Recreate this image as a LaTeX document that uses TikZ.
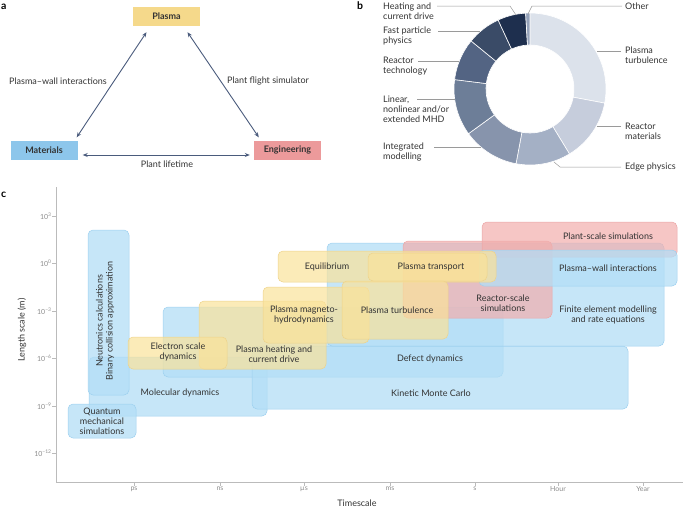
\documentclass[tikz,border=0pt]{standalone}
\usepackage{fontspec}
\setmainfont{Lato}
\usepackage{tikz}
\usetikzlibrary{arrows.meta}

\definecolor{txt}{HTML}{333333}
\definecolor{ticktxt}{HTML}{8C8C8C}
\definecolor{axisc}{HTML}{BBBBBB}
\definecolor{pbox}{HTML}{F5D98B}
\definecolor{mbox}{HTML}{8DC6EB}
\definecolor{ebox}{HTML}{EC9A9B}
\definecolor{arr}{HTML}{4A5B7C}
\definecolor{lead}{HTML}{9A9A9A}
\definecolor{segPT}{HTML}{DCE2EB}
\definecolor{segRM}{HTML}{C6CDDC}
\definecolor{segEP}{HTML}{A4B0C5}
\definecolor{segIM}{HTML}{8794AC}
\definecolor{segMHD}{HTML}{6D7E98}
\definecolor{segRT}{HTML}{536483}
\definecolor{segFP}{HTML}{3A4B67}
\definecolor{segHC}{HTML}{1E2F4E}
\definecolor{segOT}{HTML}{94A2BA}
\definecolor{bfill}{HTML}{B3DEF6}
\definecolor{bline}{HTML}{9DD0EF}
\definecolor{yfill}{HTML}{FAE29A}
\definecolor{yline}{HTML}{EED38A}
\definecolor{rfill}{HTML}{F2AEAD}
\definecolor{rline}{HTML}{EBA5A5}

\begin{document}
\begin{tikzpicture}[x=1pt,y=-1pt,
  every node/.style={font=\fontsize{9}{10}\selectfont, text=txt, inner sep=0pt},
  panel/.style={font=\fontsize{10.5}{12}\selectfont\bfseries, text=black},
  hdr/.style={font=\fontsize{9}{10}\selectfont\bfseries, minimum width=67pt, minimum height=19pt},
  darr/.style={draw=arr, line width=0.9pt, {Stealth[length=5pt,width=4pt]}-{Stealth[length=5pt,width=4pt]}},
  leader/.style={draw=lead, line width=0.5pt},
  bbox/.style={draw=bline, fill=bfill, fill opacity=0.75, rounded corners=5pt, line width=0.5pt},
  ybox/.style={draw=yline, fill=yfill, fill opacity=0.7, rounded corners=5pt, line width=0.5pt},
  rbox/.style={draw=rline, fill=rfill, fill opacity=0.7, rounded corners=5pt, line width=0.5pt},
  ticklbl/.style={font=\fontsize{7}{8}\selectfont, text=ticktxt},
  axisline/.style={draw=axisc, line width=0.8pt}]
\useasboundingbox (0,0) rectangle (685,507);

% panel a
\node [panel, anchor=west] (la) at (1,7) {a};
\node [hdr, fill=pbox] (plasma) at (166.5,16.5) {Plasma};
\node [hdr, fill=mbox] (materials) at (44,150) {Materials};
\node [hdr, fill=ebox] (engineering) at (287.5,150) {Engineering};
\draw [darr] ([xshift=-20pt,yshift=-6pt]plasma.south) -- ([xshift=-1pt,yshift=3pt]materials.north east);
\draw [darr] ([xshift=21pt,yshift=-6pt]plasma.south) -- ([xshift=5pt,yshift=3pt]engineering.north west);
\draw [darr] ([xshift=5pt,yshift=-5pt]materials.east) -- ([xshift=-4pt,yshift=-5pt]engineering.west);
\node (pwi) at (58,81) {Plasma–wall interactions};
\node (pfs) at (268,81) {Plant flight simulator};
\node (plt) at (167,164) {Plant lifetime};

% panel b
\node [panel, anchor=west] (lb) at (357,6) {b};
\begin{scope}[shift={(530,89)}]
\foreach \a/\b/\c in {90/-10.7/segPT, -10.7/-58.7/segRM, -58.7/-100.6/segEP,
    -100.6/-144/segIM, -144/-187.1/segMHD, -187.1/-219.2/segRT,
    -219.2/-245.2/segFP, -245.2/-266.7/segHC, -266.7/-270/segOT}
  \filldraw [fill=\c, draw=white, line width=0.6pt]
    (\a:76pt) arc[start angle=\a, end angle=\b, radius=76pt]
    -- (\b:44pt) arc[start angle=\b, end angle=\a, radius=44pt] -- cycle;
\end{scope}
\node [anchor=west, align=left] (hcd) at (383,11) {Heating and\\current drive};
\node [anchor=west, align=left] (fpp) at (383,36) {Fast particle\\physics};
\node [anchor=west, align=left] (rtech) at (383,66) {Reactor\\technology};
\node [anchor=west, align=left] (mhd) at (383,109) {Linear,\\nonlinear and/or\\extended MHD};
\node [anchor=west, align=left] (imod) at (383,152) {Integrated\\modelling};
\node [anchor=west, align=left] (other) at (625,6) {Other};
\node [anchor=west, align=left] (pturb) at (625,55) {Plasma\\turbulence};
\node [anchor=west, align=left] (rmat) at (625,131) {Reactor\\materials};
\node [anchor=west, align=left] (edge) at (625,167) {Edge physics};
\coordinate (hcd-a) at (437,6);
\coordinate (fpp-a) at (438,31);
\coordinate (rtech-a) at (418,61);
\coordinate (mhd-a) at (417,99);
\coordinate (imod-a) at (434,147);
\coordinate (other-a) at (622,6);
\coordinate (pturb-a) at (621,51);
\coordinate (rmat-a) at (621,126);
\coordinate (edge-a) at (621,167);
\draw [leader] (hcd-a) -- (510,6) -- (516,15);
\draw [leader] (fpp-a) -- (480,31);
\draw [leader] (rtech-a) -- (459,61);
\draw [leader] (mhd-a) -- (455,99);
\draw [leader] (imod-a) -- (481,147);
\draw [leader] (other-a) -- (532,6) -- (528,14);
\draw [leader] (pturb-a) -- (597,51);
\draw [leader] (rmat-a) -- (597,126);
\draw [leader] (edge-a) -- (560,167) -- (554,162);

% panel c
\node [panel, anchor=west] (lc) at (1,195) {c};
\draw [axisline] (56,187) -- (56,482) -- (683,482);
\draw [axisline] (56,216) -- (52,216) node [ticklbl, anchor=east] (y3) {10\textsuperscript{3}};
\draw [axisline] (56,263) -- (52,263) node [ticklbl, anchor=east] (y0) {10\textsuperscript{0}};
\draw [axisline] (56,311) -- (52,311) node [ticklbl, anchor=east] (ym3) {10\textsuperscript{−3}};
\draw [axisline] (56,358) -- (52,358) node [ticklbl, anchor=east] (ym6) {10\textsuperscript{−6}};
\draw [axisline] (56,406) -- (52,406) node [ticklbl, anchor=east] (ym9) {10\textsuperscript{−9}};
\draw [axisline] (56,453) -- (52,453) node [ticklbl, anchor=east] (ym12) {10\textsuperscript{−12}};
\draw [axisline] (134,482) -- (134,486) node [ticklbl, anchor=north] (tps) {ps};
\draw [axisline] (220,482) -- (220,486) node [ticklbl, anchor=north] (tns) {ns};
\draw [axisline] (304,482) -- (304,486) node [ticklbl, anchor=north] (tus) {µs};
\draw [axisline] (390,482) -- (390,486) node [ticklbl, anchor=north] (tms) {ms};
\draw [axisline] (475,482) -- (475,486) node [ticklbl, anchor=north] (ts) {s};
\draw [axisline] (558,482) -- (558,486) node [ticklbl, anchor=north] (thr) {Hour};
\draw [axisline] (643,482) -- (643,486) node [ticklbl, anchor=north] (tyr) {Year};
\node [rotate=90] (ylab) at (22,330) {Length scale (m)};
\node (xlab) at (357,503) {Timescale};

% blue
\draw [bbox] (89,357) rectangle (267,416);
\draw [bbox] (88,230) rectangle (129,395);
\draw [bbox] (68,404) rectangle (136,438);
\draw [bbox] (163,307) rectangle (503,377);
\draw [bbox] (252,346) rectangle (628,409);
\draw [bbox] (327,243) rectangle (664,346);
% red
\draw [rbox] (403,241) rectangle (552,318);
\draw [rbox] (482,222) rectangle (677,257);
\draw [bbox] (479,250) rectangle (677,286);
% yellow
\draw [ybox] (199,301) rectangle (326,369);
\draw [ybox] (128,337) rectangle (227,369);
\draw [ybox] (263,287) rectangle (369,343);
\draw [ybox] (278,251) rectangle (496,282);
\draw [ybox] (368,253) rectangle (487,281);
\draw [ybox] (342,281) rectangle (448,339);

\node [rotate=90, align=center] (neut) at (105,321) {Neutronics calculations\\Binary collision approximation};
\node [align=center] (qms) at (102,421) {Quantum\\mechanical\\simulations};
\node (md) at (180,393) {Molecular dynamics};
\node (dd) at (430,359) {Defect dynamics};
\node (kmc) at (431,393) {Kinetic Monte Carlo};
\node [align=center] (fem) at (608,315) {Finite element modelling\\and rate equations};
\node [align=center] (rss) at (503,303) {Reactor-scale\\simulations};
\node (pss) at (608,236) {Plant-scale simulations};
\node (pwc) at (608,268) {Plasma–wall interactions};
\node [align=center] (esd) at (178,352) {Electron scale\\dynamics};
\node [align=center] (phc) at (274,354) {Plasma heating and\\current drive};
\node [align=center] (pmhd) at (304,315) {Plasma magneto-\\hydrodynamics};
\node (equ) at (327,267) {Equilibrium};
\node (ptr) at (431,267) {Plasma transport};
\node (ptu) at (397,310) {Plasma turbulence};
\end{tikzpicture}
\end{document}
